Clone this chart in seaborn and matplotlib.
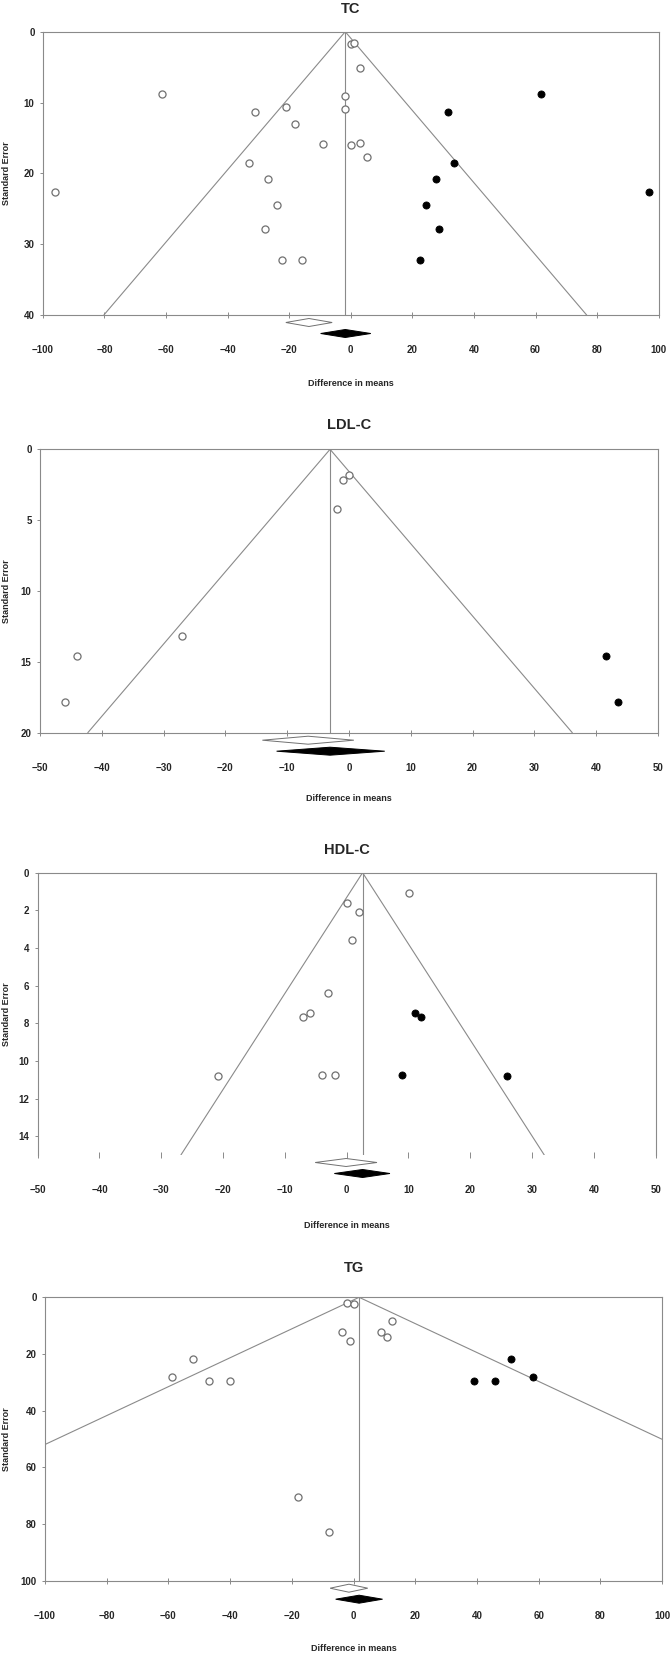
import matplotlib
matplotlib.use('Agg')
import matplotlib.pyplot as plt
import numpy as np
import pandas as pd
import seaborn as sns

sns.set_theme(style='white')
plt.rcParams['font.family'] = ['Liberation Sans', 'DejaVu Sans']
plt.rcParams['font.weight'] = 'bold'

# ---- data (difference in means, standard error) ----
tc_obs_x = [0.2, 1.0, 2.85, -61.3, -2.0, -2.0, -20.9, -31.0, -18.0, -9.0, 0.1, 3.1, 5.1,
            -33.0, -26.9, -96.2, -24.0, -27.9, -22.2, -15.9]
tc_obs_se = [1.8, 1.55, 5.1, 8.85, 9.1, 10.9, 10.7, 11.35, 13.0, 15.9, 16.05, 15.65, 17.65,
             18.55, 20.85, 22.6, 24.5, 27.9, 32.3, 32.3]
tc_fill_x = [61.7, 31.7, 33.5, 27.6, 96.7, 24.4, 28.5, 22.5]
tc_fill_se = [8.85, 11.35, 18.55, 20.85, 22.6, 24.5, 27.9, 32.3]

ldl_obs_x = [0.0, -1.0, -1.9, -27.0, -44.0, -46.0]
ldl_obs_se = [1.8, 2.15, 4.2, 13.2, 14.6, 17.85]
ldl_fill_x = [41.6, 43.6]
ldl_fill_se = [14.6, 17.85]

hdl_obs_x = [10.1, 0.1, 2.0, 0.8, -3.0, -6.0, -7.0, -20.9, -3.95, -1.95]
hdl_obs_se = [1.08, 1.63, 2.07, 3.58, 6.41, 7.46, 7.67, 10.82, 10.73, 10.73]
hdl_fill_x = [11.0, 12.0, 8.95, 26.0]
hdl_fill_se = [7.46, 7.67, 10.73, 10.82]

tg_obs_x = [-2.1, 0.0, 12.4, -3.9, 9.0, 11.0, -1.0, -52.1, -59.0, -46.9, -40.0, -18.1, -8.1]
tg_obs_se = [1.9, 2.35, 8.5, 12.1, 12.2, 14.0, 15.4, 21.6, 28.2, 29.5, 29.5, 70.3, 82.9]
tg_fill_x = [51.0, 58.1, 38.9, 46.0]
tg_fill_se = [21.6, 28.2, 29.5, 29.5]

# pooled estimates: observed (white diamond) and adjusted (black diamond), with CI
titles = ['TC', 'LDL-C', 'HDL-C', 'TG']
obs_est = [-13.6, -6.6, -0.1, -1.5]
obs_lo = [-21.1, -14.0, -5.1, -7.6]
obs_hi = [-6.05, 0.8, 4.9, 4.6]
adj_est = [-1.8, -3.05, 2.57, 1.8]
adj_lo = [-9.8, -11.7, -2.0, -5.8]
adj_hi = [6.5, 5.8, 7.0, 9.4]

x_lims = [(-100, 100), (-50, 50), (-50, 50), (-100, 100)]
x_steps = [20, 10, 10, 20]
y_maxs = [40, 20, 15, 100]
y_steps = [10, 5, 2, 20]

obs_x = [tc_obs_x, ldl_obs_x, hdl_obs_x, tg_obs_x]
obs_se = [tc_obs_se, ldl_obs_se, hdl_obs_se, tg_obs_se]
fill_x = [tc_fill_x, ldl_fill_x, hdl_fill_x, tg_fill_x]
fill_se = [tc_fill_se, ldl_fill_se, hdl_fill_se, tg_fill_se]

# ---- layout (pixels of a 672x1654 image) ----
W, H = 672, 1654
boxes = [(42.9, 31.7, 658.7, 315.0),
         (39.9, 449.3, 657.9, 732.7),
         (37.7, 872.7, 655.7, 1155.0),
         (45.0, 1297.3, 662.1, 1580.7)]
title_off = [23, 24, 23, 29]
xlabel_off = [68, 66, 70, 68]
GREY = '#8a8a8a'

fig = plt.figure(figsize=(W / 100, H / 100), dpi=100)

for i in range(4):
    l, t, r, b = boxes[i]
    wpx, hpx = r - l, b - t
    ax = fig.add_axes([l / W, 1 - b / H, wpx / W, hpx / H])
    ymax = y_maxs[i]
    c = adj_est[i]

    # funnel and centre line
    ax.plot([c - 1.96 * ymax, c, c + 1.96 * ymax], [ymax, 0, ymax], color=GREY, lw=0.8)
    ax.plot([c, c], [0, ymax], color=GREY, lw=0.8)

    df_obs = pd.DataFrame({'diff': obs_x[i], 'se': obs_se[i]})
    df_fill = pd.DataFrame({'diff': fill_x[i], 'se': fill_se[i]})
    sns.scatterplot(data=df_obs, x='diff', y='se', ax=ax, s=26, color='white',
                    edgecolor='#707070', linewidth=0.9, zorder=3)
    sns.scatterplot(data=df_fill, x='diff', y='se', ax=ax, s=26, color='black',
                    edgecolor='black', linewidth=0.6, zorder=3)

    ax.set_xlim(*x_lims[i])
    ax.set_ylim(ymax, 0)

    # diamonds under the axis
    per_px = ymax / hpx
    for est, lo, hi, off, fc, ec in [(obs_est[i], obs_lo[i], obs_hi[i], 7.5, 'white', '#707070'),
                                     (adj_est[i], adj_lo[i], adj_hi[i], 18.5, 'black', 'black')]:
        yc = ymax + off * per_px
        dh = 4 * per_px
        ax.fill([lo, est, hi, est], [yc, yc - dh, yc, yc + dh], facecolor=fc,
                edgecolor=ec, lw=0.7, clip_on=False, zorder=4)

    x0, x1 = x_lims[i]
    ax.set_xticks(np.arange(x0, x1 + 1, x_steps[i]))
    ax.set_yticks(np.arange(0, ymax + 0.1, y_steps[i]))
    ax.tick_params(axis='x', direction='inout', length=4, width=0.7, color=GREY,
                   pad=19.5, labelsize=7)
    ax.tick_params(axis='y', direction='out', length=2, width=0.7, color=GREY,
                   pad=4, labelsize=7)
    ax.tick_params(bottom=True, left=True)
    for lab in ax.get_xticklabels() + ax.get_yticklabels():
        lab.set_fontweight('bold')

    for s in ax.spines.values():
        s.set_color(GREY)
        s.set_linewidth(0.8)
    if titles[i] == 'HDL-C':
        ax.spines['bottom'].set_visible(False)

    ax.set_title(titles[i], fontsize=10.5, fontweight='bold', y=1 + title_off[i] / hpx,
                 va='center', pad=0)
    ax.set_xlabel('Difference in means', fontsize=6.5, fontweight='bold')
    ax.xaxis.set_label_coords(0.5, -xlabel_off[i] / hpx)
    ax.xaxis.label.set_va('center')
    ax.set_ylabel('Standard Error', fontsize=6.5, fontweight='bold')
    ax.yaxis.set_label_coords(-(l - 6.5) / wpx, 0.5)
    ax.yaxis.label.set_va('center')

fig.savefig('out.png', dpi=100)
